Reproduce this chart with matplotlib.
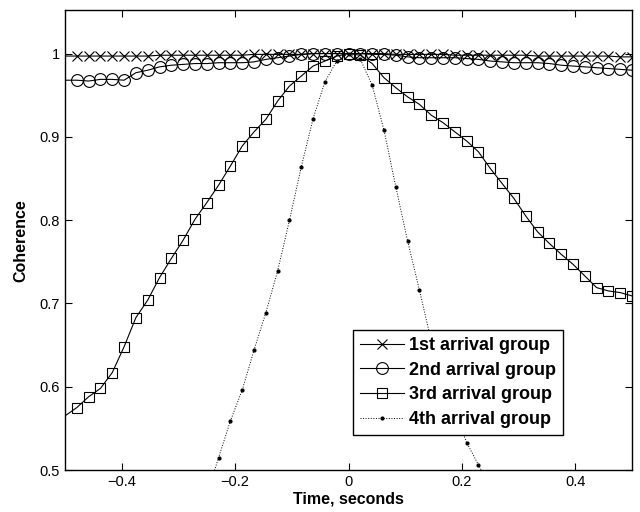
import matplotlib
matplotlib.use("Agg")
import matplotlib.pyplot as plt
import numpy as np

plt.rcParams['font.family'] = ['Liberation Sans', 'DejaVu Sans']

# sample times, 1/48 s apart
time = np.linspace(-0.5, 0.5, 49)

first = [0.997, 0.997, 0.997, 0.997, 0.997, 0.997, 0.997, 0.997, 0.998, 0.998,
         0.998, 0.998, 0.998, 0.998, 0.998, 0.998, 0.999, 0.999, 0.999, 0.999,
         0.999, 1.0, 1.0, 1.0, 1.0, 1.0, 1.0, 1.0, 0.999, 0.999,
         0.999, 0.999, 0.999, 0.998, 0.998, 0.998, 0.998, 0.998, 0.998, 0.998,
         0.997, 0.997, 0.997, 0.997, 0.997, 0.997, 0.997, 0.996, 0.996]

second = [0.968, 0.968, 0.967, 0.969, 0.969, 0.968, 0.977, 0.980, 0.984, 0.986,
          0.987, 0.988, 0.988, 0.989, 0.989, 0.989, 0.990, 0.993, 0.995, 0.997,
          0.999, 1.0, 1.0, 1.0, 1.0, 1.0, 0.999, 0.999, 0.998, 0.996,
          0.995, 0.995, 0.995, 0.995, 0.994, 0.993, 0.991, 0.990, 0.989, 0.989,
          0.989, 0.988, 0.986, 0.985, 0.984, 0.983, 0.982, 0.981, 0.980]

third = [0.565, 0.575, 0.588, 0.598, 0.617, 0.648, 0.683, 0.704, 0.731, 0.754,
         0.776, 0.801, 0.821, 0.842, 0.865, 0.889, 0.906, 0.921, 0.943, 0.961,
         0.973, 0.985, 0.991, 0.997, 1.0, 0.998, 0.988, 0.971, 0.959, 0.948,
         0.939, 0.926, 0.917, 0.906, 0.895, 0.882, 0.862, 0.844, 0.826, 0.805,
         0.786, 0.772, 0.759, 0.747, 0.733, 0.719, 0.715, 0.713, 0.709]

# 4th group only covers -0.25 .. 0.25 s
fourth = [0.47, 0.515, 0.559, 0.596, 0.644, 0.689, 0.739, 0.800, 0.864, 0.922,
          0.966, 0.991, 1.0, 0.993, 0.962, 0.908, 0.840, 0.775, 0.716, 0.655,
          0.610, 0.570, 0.533, 0.506, 0.48]
fourth_time = time[12:37]

labels = ['1st arrival group', '2nd arrival group', '3rd arrival group', '4th arrival group']

fig = plt.figure(figsize=(6.4, 5.12), dpi=100)
ax = fig.add_axes([0.1016, 0.082, 0.886, 0.898])

marks = range(1, 49)
ax.plot(time, first, color='k', lw=0.8, marker='x', ms=7, mew=0.8,
        markevery=marks, label=labels[0])
ax.plot(time, second, color='k', lw=0.8, marker='o', ms=8.5, mew=0.8,
        mfc='none', markevery=marks, label=labels[1])
ax.plot(time, third, color='k', lw=0.8, marker='s', ms=7.5, mew=0.8,
        mfc='none', markevery=marks, label=labels[2])
ax.plot(fourth_time, fourth, color='k', lw=0.7, ls=':', marker='.', ms=4,
        label=labels[3])

ax.set_xlim(-0.5, 0.5)
ax.set_ylim(0.5, 1.052)
ax.set_xticks([-0.4, -0.2, 0, 0.2, 0.4])
ax.set_xticklabels(['\u22120.4', '\u22120.2', '0', '0.2', '0.4'])
ax.set_yticks([0.5, 0.6, 0.7, 0.8, 0.9, 1.0])
ax.set_yticklabels(['0.5', '0.6', '0.7', '0.8', '0.9', '1'])
ax.tick_params(direction='in', top=True, right=True, length=5, labelsize=10.5)
for s in ax.spines.values():
    s.set_linewidth(1.0)

ax.set_xlabel('Time, seconds', fontsize=11.5, fontweight='bold', labelpad=2)
ax.set_ylabel('Coherence', fontsize=11.5, fontweight='bold', labelpad=8)

leg = ax.legend(loc='lower left', bbox_to_anchor=(0.508, 0.076), fancybox=False,
                edgecolor='k', framealpha=1, handlelength=2.4,
                prop={'weight': 'bold', 'size': 13}, borderpad=0.4,
                labelspacing=0.42, handletextpad=0.3, borderaxespad=0)
leg.get_frame().set_linewidth(1.0)

fig.savefig('out.png', dpi=100)
